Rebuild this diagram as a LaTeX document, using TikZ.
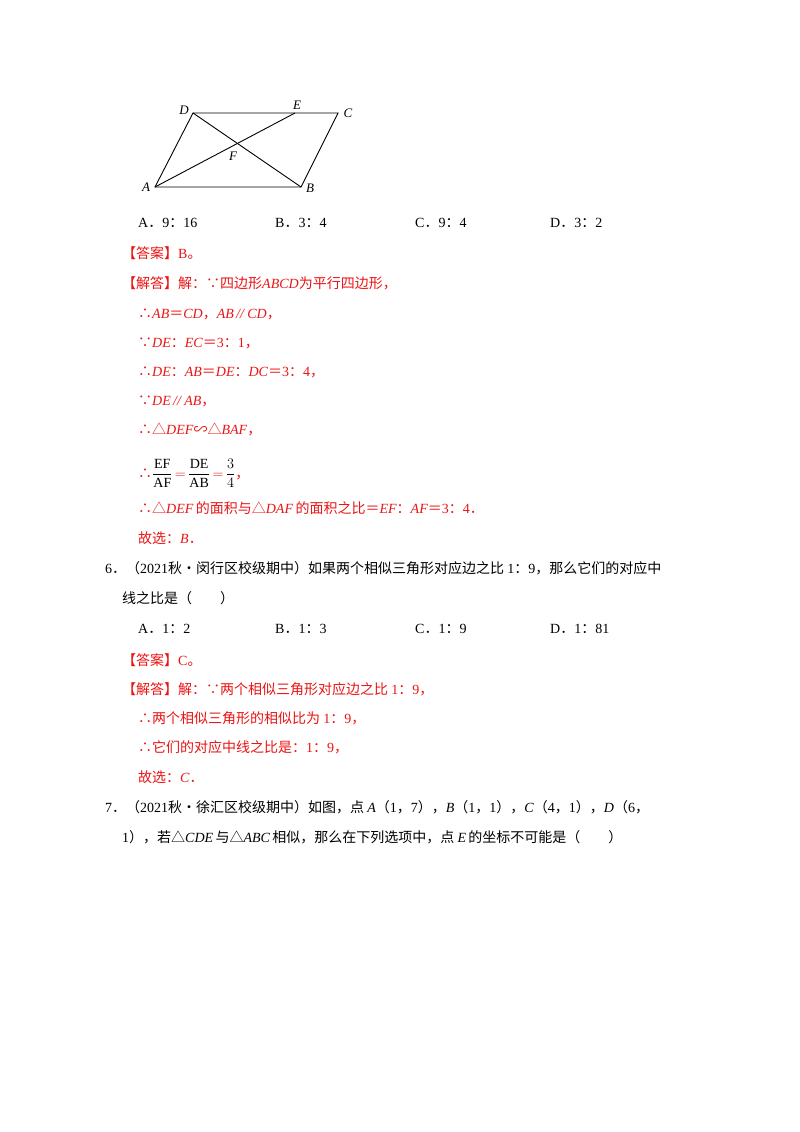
\documentclass[tikz,border=0pt]{standalone}
\usepackage{fontspec}
\setmainfont{Liberation Serif}
\newfontfamily\zhf{Noto Sans CJK SC}
\newcommand{\zh}[1]{{\zhf #1}}
\newcommand{\iv}[1]{\textit{#1}}
\newcommand{\dt}{\zh{．}}
\definecolor{ans}{RGB}{235,20,20}
\begin{document}
\begin{tikzpicture}[x=1pt,y=-1pt,
  txt/.style={anchor=base west,inner sep=0pt,font=\fontsize{14}{16}\selectfont},
  red/.style={txt,text=ans},
  lab/.style={inner sep=0pt,font=\fontsize{13}{14}\selectfont\itshape},
  edge/.style={line width=0.9pt}]
\useasboundingbox (0,0) rectangle (800,1132);
\fill[white] (0,0) rectangle (800,1132);
% figure
\coordinate (A) at (155,187);
\coordinate (B) at (301,187);
\coordinate (C) at (338,113);
\coordinate (D) at (193,113);
\coordinate (E) at (295,113);
\coordinate (F) at (237,147);
\draw[edge] (A) -- (B) -- (C) -- (D) -- cycle;
\draw[edge] (D) -- (B);
\draw[edge] (A) -- (E);
\node[lab] (lA) at (146,187) {A};
\node[lab] (lB) at (310,188) {B};
\node[lab] (lC) at (348,113) {C};
\node[lab] (lD) at (184,110) {D};
\node[lab] (lE) at (297,105) {E};
\node[lab] (lF) at (233,156) {F};
% options
\node[txt] (o1) at (138,227) {A\dt 9\zh{：}16};
\node[txt] (o2) at (275,227) {B\dt 3\zh{：}4};
\node[txt] (o3) at (415,227) {C\dt 9\zh{：}4};
\node[txt] (o4) at (550,227) {D\dt 3\zh{：}2};
\node[red] (a1) at (122,258) {\zh{【答案】}B\zh{。}};
\node[red] (a2) at (122,288) {\zh{【解答】解：∵四边形}\iv{ABCD}\zh{为平行四边形，}};
\node[red] (a3) at (138,318) {\zh{∴}\iv{AB}\zh{＝}\iv{CD}\zh{，}\iv{AB}\,\iv{//}\,\iv{CD}\zh{，}};
\node[red] (a4) at (138,347) {\zh{∵}\iv{DE}\zh{：}\iv{EC}\zh{＝}3\zh{：}1\zh{，}};
\node[red] (a5) at (138,376) {\zh{∴}\iv{DE}\zh{：}\iv{AB}\zh{＝}\iv{DE}\zh{：}\iv{DC}\zh{＝}3\zh{：}4\zh{，}};
\node[red] (a6) at (138,405) {\zh{∵}\iv{DE}\,\iv{//}\,\iv{AB}\zh{，}};
\node[red] (a7) at (138,434) {\zh{∴△}\iv{DEF}\zh{∽△}\iv{BAF}\zh{，}};
\node[red] (a8) at (138,478) {\zh{∴}\textcolor{black}{$\displaystyle\frac{\mathrm{EF}}{\mathrm{AF}}$}$\,=\,$\textcolor{black}{$\displaystyle\frac{\mathrm{DE}}{\mathrm{AB}}$}$\,=\,$\textcolor{black}{$\displaystyle\frac{3}{4}$}\zh{，}};
\node[red] (a9) at (138,513) {\zh{∴△}\iv{DEF}\,\zh{的面积与△}\iv{DAF}\,\zh{的面积之比＝}\iv{EF}\zh{：}\iv{AF}\zh{＝}3\zh{：}4\dt};
\node[red] (a10) at (138,543) {\zh{故选：}\iv{B}\dt};
% question 6
\node[txt] (q6) at (105,573) {6\dt\zh{（}2021\zh{秋•闵行区校级期中）如果两个相似三角形对应边之比 }1\zh{：}9\zh{，那么它们的对应中}};
\node[txt] (q6b) at (122,603) {\zh{线之比是（　　）}};
\node[txt] (p1) at (138,633) {A\dt 1\zh{：}2};
\node[txt] (p2) at (275,633) {B\dt 1\zh{：}3};
\node[txt] (p3) at (415,633) {C\dt 1\zh{：}9};
\node[txt] (p4) at (550,633) {D\dt 1\zh{：}81};
\node[red] (b1) at (122,665) {\zh{【答案】}C\zh{。}};
\node[red] (b2) at (122,694) {\zh{【解答】解：∵两个相似三角形对应边之比 }1\zh{：}9\zh{，}};
\node[red] (b3) at (138,723) {\zh{∴两个相似三角形的相似比为 }1\zh{：}9\zh{，}};
\node[red] (b4) at (138,752) {\zh{∴它们的对应中线之比是：}1\zh{：}9\zh{，}};
\node[red] (b5) at (138,782) {\zh{故选：}\iv{C}\dt};
% question 7
\node[txt] (q7) at (105,812) {7\dt\zh{（}2021\zh{秋•徐汇区校级期中）如图，点 }\iv{A}\zh{（}1\zh{，}7\zh{），}\iv{B}\zh{（}1\zh{，}1\zh{），}\iv{C}\zh{（}4\zh{，}1\zh{），}\iv{D}\zh{（}6\zh{，}};
\node[txt] (q7b) at (122,842) {1\zh{），若△}\iv{CDE}\,\zh{与△}\iv{ABC}\,\zh{相似，那么在下列选项中，点 }\iv{E}\,\zh{的坐标不可能是（　　）}};
\end{tikzpicture}
\end{document}
